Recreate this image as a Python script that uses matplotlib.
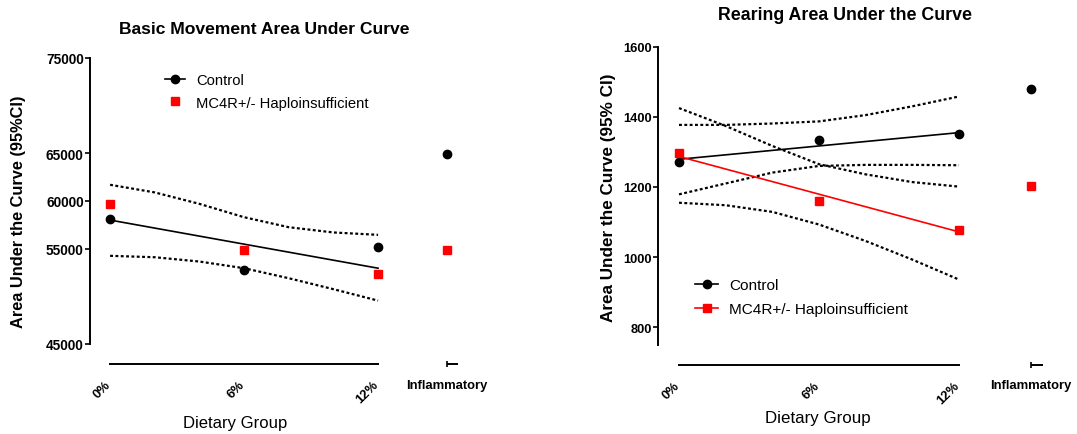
import matplotlib
matplotlib.use("Agg")
import matplotlib.pyplot as plt
from matplotlib.lines import Line2D
from matplotlib import transforms

plt.rcParams['font.family'] = ['Liberation Sans', 'DejaVu Sans']

# ---------------- data ----------------
group_labels = ['0%', '6%', '12%', 'Inflammatory']
diet_pct = [0, 6, 12]
infl_pos = 15.1
group_pos = diet_pct + [infl_pos]

fit_x = [0, 12]
ci_x = [0, 2, 4, 6, 8, 10, 12]

# Basic movement
basic_control = [58100, 52800, 55200, 64900]
basic_mc4r = [59700, 54900, 52300, 54900]
basic_control_fit = [58000, 52950]
basic_ci_upper = [61700, 60900, 59700, 58300, 57250, 56700, 56450]
basic_ci_lower = [54250, 54100, 53650, 52950, 51900, 50750, 49550]
basic_yticks = [45000, 55000, 60000, 65000, 75000]

# Rearing
rear_control = [1271, 1333, 1352, 1478]
rear_mc4r = [1298, 1161, 1077, 1204]
rear_control_fit = [1279, 1355]
rear_mc4r_fit = [1287, 1072]
rear_control_ci_upper = [1377, 1377, 1381, 1387, 1405, 1430, 1458]
rear_control_ci_lower = [1179, 1210, 1241, 1260, 1263, 1263, 1262]
rear_mc4r_ci_upper = [1425, 1374, 1317, 1265, 1236, 1214, 1201]
rear_mc4r_ci_lower = [1155, 1148, 1129, 1093, 1046, 993, 936]
rear_yticks = [800, 1000, 1200, 1400, 1600]

# ---------------- figure ----------------
W, H, DPI = 1077, 435, 100
fig = plt.figure(figsize=(W / DPI, H / DPI), dpi=DPI)

def px_rect(left, top, right, bottom):
    return [left / W, 1 - bottom / H, (right - left) / W, (bottom - top) / H]

ax1 = fig.add_axes(px_rect(90, 59, 90 + 16.9 * 22.33, 345))
ax2 = fig.add_axes(px_rect(658, 47.7, 658 + 16.9 * 23.33, 345.8))

dot = (0, (1.3, 1.1))
RED = '#ff0000'
ms = 6

def style_axes(ax, ylim, yticks, ytick_fs, spine_bounds=None):
    ax.set_xlim(-0.9, 16)
    ax.set_ylim(*ylim)
    for s in ['top', 'right']:
        ax.spines[s].set_visible(False)
    ax.spines['left'].set_linewidth(1.4)
    ax.spines['bottom'].set_linewidth(1.4)
    if spine_bounds:
        ax.spines['left'].set_bounds(*spine_bounds)
    ax.spines['bottom'].set_position(('outward', 14.4))
    ax.spines['bottom'].set_bounds(0, 12)
    ax.set_yticks(yticks)
    ax.set_yticklabels([str(t) for t in yticks], fontsize=ytick_fs, fontweight='bold')
    ax.tick_params(axis='y', direction='out', length=3.5, width=1.2, pad=1)
    ax.set_xticks(group_pos)
    ax.set_xticklabels(group_labels, fontsize=9.4, fontweight='bold')
    ax.tick_params(axis='x', which='major', length=0, pad=10.5)
    ax.set_xticks([12], minor=True)
    ax.tick_params(axis='x', which='minor', direction='inout', length=5, width=1.2)
    labels = ax.get_xticklabels()
    off = transforms.ScaledTranslation(3 / DPI, 0, fig.dpi_scale_trans)
    for lab in labels[:3]:
        lab.set_rotation(45)
        lab.set_ha('right')
        lab.set_va('top')
        lab.set_transform(lab.get_transform() + off)
    labels[3].set_rotation(0)
    labels[3].set_ha('center')
    # second axis segment for Inflammatory
    tr = transforms.blended_transform_factory(ax.transData, ax.transAxes) + \
        transforms.ScaledTranslation(0, -20 / DPI, fig.dpi_scale_trans)
    ax.plot([infl_pos, infl_pos + 0.5], [0, 0], color='black', lw=1.4,
            transform=tr, clip_on=False, solid_capstyle='butt')
    ax.plot([infl_pos], [0], marker='|', ms=5, mew=1.2, color='black',
            transform=tr, clip_on=False)

# ---- left chart ----
style_axes(ax1, (45000, 75000), basic_yticks, 9.8, spine_bounds=(45000, 75000))
ax1.plot(ci_x, basic_ci_upper, color='black', lw=1.6, ls=dot, dash_capstyle='butt')
ax1.plot(ci_x, basic_ci_lower, color='black', lw=1.6, ls=dot, dash_capstyle='butt')
ax1.plot(fit_x, basic_control_fit, color='black', lw=1.2)
ax1.plot(group_pos, basic_control, 'o', color='black', ms=ms, clip_on=False)
ax1.plot(group_pos, basic_mc4r, 's', color=RED, ms=ms, clip_on=False)
h1 = [Line2D([], [], color='black', lw=1.2, marker='o', ms=ms),
      Line2D([], [], color=RED, ls='none', marker='s', ms=ms)]
fig.legend(h1, ['Control', 'MC4R+/- Haploinsufficient'], loc='upper left',
           bbox_to_anchor=(165 / W, 1 - 74 / H), frameon=False, fontsize=10.6,
           borderpad=0, borderaxespad=0, handlelength=1.35, handletextpad=0.75,
           labelspacing=0.58)

# ---- right chart ----
style_axes(ax2, (750, 1600), rear_yticks, 9.3)
for arr in [rear_control_ci_upper, rear_control_ci_lower, rear_mc4r_ci_upper, rear_mc4r_ci_lower]:
    ax2.plot(ci_x, arr, color='black', lw=1.6, ls=dot, dash_capstyle='butt')
ax2.plot(fit_x, rear_control_fit, color='black', lw=1.2)
ax2.plot(fit_x, rear_mc4r_fit, color=RED, lw=1.2)
ax2.plot(group_pos, rear_control, 'o', color='black', ms=ms, clip_on=False)
ax2.plot(group_pos, rear_mc4r, 's', color=RED, ms=ms, clip_on=False)
h2 = [Line2D([], [], color='black', lw=1.2, marker='o', ms=ms),
      Line2D([], [], color=RED, lw=1.2, marker='s', ms=ms)]
fig.legend(h2, ['Control', 'MC4R+/- Haploinsufficient'], loc='upper left',
           bbox_to_anchor=(695 / W, 1 - 279 / H), frameon=False, fontsize=11.1,
           borderpad=0, borderaxespad=0, handlelength=1.5, handletextpad=0.7,
           labelspacing=0.68)

# ---- titles and axis labels ----
fig.text(264 / W, 1 - 30 / H, 'Basic Movement Area Under Curve', ha='center', va='center',
         fontsize=12.6, fontweight='bold')
fig.text(845 / W, 1 - 16 / H, 'Rearing Area Under the Curve', ha='center', va='center',
         fontsize=12.8, fontweight='bold')
fig.text(19 / W, 1 - 211.5 / H, 'Area Under the Curve (95%CI)', rotation=90, ha='center',
         va='center', fontsize=11.8, fontweight='bold')
fig.text(608 / W, 1 - 197.5 / H, 'Area Under the Curve (95% CI)', rotation=90, ha='center',
         va='center', fontsize=12.3, fontweight='bold')
fig.text(235 / W, 1 - 424 / H, 'Dietary Group', ha='center', va='center', fontsize=12)
fig.text(817.5 / W, 1 - 419 / H, 'Dietary Group', ha='center', va='center', fontsize=12.2)

fig.savefig('out.png', dpi=DPI)
